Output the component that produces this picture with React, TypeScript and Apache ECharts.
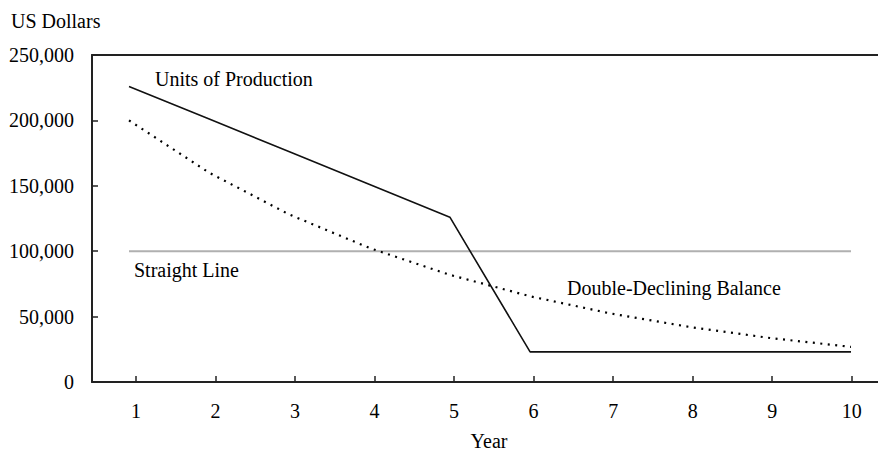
import React, { useEffect, useRef } from "react";
import * as echarts from "echarts";

const years = [1, 2, 3, 4, 5, 6, 7, 8, 9, 10];
const yTicks = [0, 50000, 100000, 150000, 200000, 250000];
const straightLine = [100000, 100000, 100000, 100000, 100000, 100000, 100000, 100000, 100000, 100000];
const doubleDeclining = [200000, 160000, 128000, 102400, 81920, 65536, 52429, 41943, 33554, 26844];
const unitsOfProduction = [226000, 201000, 176000, 151000, 126000, 23000, 23000, 23000, 23000, 23000];

const seriesNames = ["Straight Line", "Double-Declining Balance", "Units of Production"];
const yTitle = "US Dollars";
const xTitle = "Year";

const FONT = "'Liberation Serif', 'Times New Roman', serif";
const FS = 20;

export default function App() {
  const ref = useRef<HTMLDivElement>(null);
  useEffect(() => {
    if (!ref.current) return;
    const chart = echarts.init(ref.current, null, { renderer: "svg" });
    const fmt = (v: number) => v.toLocaleString("en-US");
    chart.setOption({
      animation: false,
      backgroundColor: "#ffffff",
      textStyle: { fontFamily: FONT, color: "#000" },
      grid: { left: 92, top: 55, right: 0, bottom: 68, outerBoundsMode: "none", containLabel: false },
      xAxis: [
        {
          type: "value",
          position: "bottom",
          min: 0.4467,
          max: 10.3307,
          axisLine: { show: true, lineStyle: { color: "#222", width: 2 } },
          axisTick: { show: true, inside: true, length: 6, customValues: years, lineStyle: { color: "#222", width: 1.5 } },
          axisLabel: {
            customValues: years,
            fontFamily: FONT,
            fontSize: FS,
            color: "#000",
            margin: 19,
          },
          splitLine: { show: false },
          name: xTitle,
          nameLocation: "middle",
          nameGap: 50,
          nameTextStyle: { fontFamily: FONT, fontSize: FS, lineHeight: 17, color: "#000", padding: [0, 0, 0, 8] },
        },
        {
          type: "value",
          position: "top",
          min: 0.5388,
          max: 10.3366,
          axisLine: { show: true, onZero: false, lineStyle: { color: "#222", width: 2 } },
          axisTick: { show: false },
          axisLabel: { show: false },
          splitLine: { show: false },
        },
      ],
      yAxis: {
        type: "value",
        min: yTicks[0],
        max: yTicks[yTicks.length - 1],
        interval: 50000,
        axisLine: { show: true, lineStyle: { color: "#222", width: 2 } },
        axisTick: { show: true, inside: true, length: 6, lineStyle: { color: "#222", width: 1.5 } },
        axisLabel: { fontFamily: FONT, fontSize: FS, color: "#000", margin: 18, formatter: fmt },
        splitLine: { show: false },
      },
      series: [
        {
          name: seriesNames[0],
          type: "line",
          xAxisIndex: 1,
          data: years.map((y, i) => [y, straightLine[i]]),
          showSymbol: false,
          lineStyle: { color: "#b0b0b0", width: 2 },
        },
        {
          name: seriesNames[1],
          type: "line",
          xAxisIndex: 1,
          data: years.map((y, i) => [y, doubleDeclining[i]]),
          showSymbol: false,
          lineStyle: { color: "#000", width: 2.2, type: [2, 5.5] },
        },
        {
          name: seriesNames[2],
          type: "line",
          xAxisIndex: 1,
          data: years.map((y, i) => [y, unitsOfProduction[i]]),
          showSymbol: false,
          lineStyle: { color: "#111", width: 1.6 },
        },
      ],
      graphic: [
        { type: "text", left: 11, top: 11, style: { text: yTitle, fontFamily: FONT, fontSize: FS, fill: "#000" } },
        { type: "text", left: 155, top: 69, style: { text: seriesNames[2], fontFamily: FONT, fontSize: FS, fill: "#000" } },
        { type: "text", left: 134, top: 260, style: { text: seriesNames[0], fontFamily: FONT, fontSize: FS, fill: "#000" } },
        { type: "text", left: 567, top: 278, style: { text: seriesNames[1], fontFamily: FONT, fontSize: FS, fill: "#000" } },
      ],
    });
    return () => chart.dispose();
  }, []);
  return (
    <div
      ref={ref}
      style={{ position: "fixed", left: 0, top: 0, width: 878, height: 450, background: "#fff" }}
    />
  );
}
